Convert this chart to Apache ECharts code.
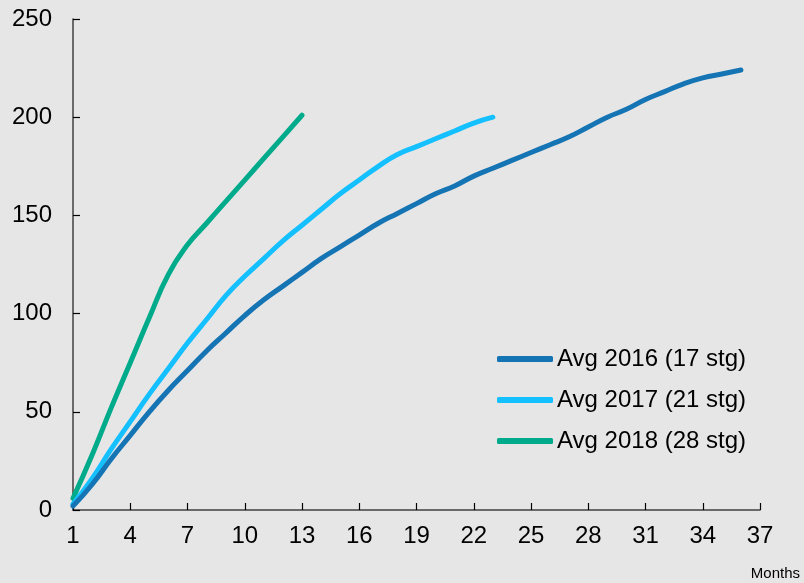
<!DOCTYPE html>
<html>
<head>
<meta charset="utf-8">
<script src="https://cdn.jsdelivr.net/npm/echarts@6/dist/echarts.min.js"></script>
<style>
  html, body { margin: 0; padding: 0; background: #e6e6e6; }
  #chart { width: 804px; height: 583px; }
</style>
</head>
<body>
<div id="chart"></div>
<script>
// Cumulative averages by month since start
const seriesNames = ['Avg 2016 (17 stg)', 'Avg 2017 (21 stg)', 'Avg 2018 (28 stg)'];
const avg2016 = [2, 13, 26, 38, 50, 61, 71, 81, 90, 99, 107, 114, 121, 128, 134, 140, 146, 151, 156, 161, 165, 170, 174, 178, 182, 186, 190, 195, 200, 204, 209, 213, 217, 220, 222, 224];
const avg2017 = [3, 16, 31, 45, 59, 72, 85, 97, 109, 119, 128, 137, 145, 153, 161, 168, 175, 181, 185, 189, 193, 197, 200];
const avg2018 = [6, 28, 52, 75, 98, 120, 135, 146, 157, 168, 179, 190, 201];
const colors = ['#1474b4', '#14c0ff', '#00ab8c'];
const xTicks = { min: 1, max: 37, step: 3 };
const yTicks = { min: 0, max: 250, step: 50 };
const xAxisTitle = 'Months';

const toPoints = arr => arr.map((v, i) => [i + 1, v]);
const allValues = [avg2016, avg2017, avg2018];

const chart = echarts.init(document.getElementById('chart'), null, { renderer: 'canvas' });
const font = '"Liberation Sans", Arial, sans-serif';

chart.setOption({
  backgroundColor: '#e6e6e6',
  animation: false,
  grid: { left: 73, right: 44, top: 19, bottom: 73, containLabel: false },
  legend: {
    orient: 'vertical',
    left: 497,
    top: 347,
    padding: 0,
    itemWidth: 56,
    itemHeight: 6,
    itemGap: 17,
    icon: 'roundRect',
    textStyle: { fontFamily: font, fontSize: 24, color: '#000', lineHeight: 24, padding: [0, 0, 0, -1] },
    data: seriesNames
  },
  xAxis: {
    type: 'value',
    min: xTicks.min,
    max: xTicks.max,
    interval: xTicks.step,
    axisLine: { show: true, lineStyle: { color: '#404040', width: 1.5 } },
    axisTick: { show: true, inside: true, length: 7, lineStyle: { color: '#000', width: 1.2 } },
    axisLabel: { fontFamily: font, fontSize: 24, color: '#000', margin: 14 },
    splitLine: { show: false }
  },
  yAxis: {
    type: 'value',
    min: yTicks.min,
    max: yTicks.max,
    interval: yTicks.step,
    axisLine: { show: true, lineStyle: { color: '#404040', width: 1.5 } },
    axisTick: { show: true, inside: true, length: 7, lineStyle: { color: '#000', width: 1.2 } },
    axisLabel: { fontFamily: font, fontSize: 24, color: '#000', margin: 21 },
    splitLine: { show: false }
  },
  graphic: [{
    type: 'text',
    right: 4,
    bottom: 2,
    style: { text: xAxisTitle, font: '15px ' + font, fill: '#000' }
  }],
  series: seriesNames.map((name, i) => ({
    name: name,
    type: 'line',
    data: toPoints(allValues[i]),
    smooth: 0.5,
    showSymbol: false,
    symbol: 'none',
    color: colors[i],
    lineStyle: { width: 5, color: colors[i], cap: 'round', join: 'round' },
    z: 3 - i
  }))
});
</script>
</body>
</html>
